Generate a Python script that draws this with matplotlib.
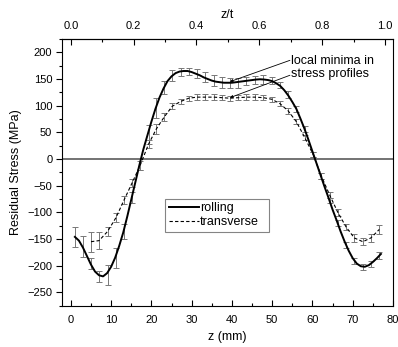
import numpy as np
import matplotlib
matplotlib.use("Agg")
import matplotlib.pyplot as plt
from matplotlib.ticker import MultipleLocator, FixedLocator, FormatStrFormatter

plt.rcParams['font.family'] = ['Liberation Sans', 'DejaVu Sans']

# ---- data ----
thickness = 78.0  # mm, for z/t axis
top_ticks = [0.0, 0.2, 0.4, 0.6, 0.8, 1.0]
top_minor = [0.1, 0.3, 0.5, 0.7, 0.9]

# measurement positions and values (error bars)
z = [1.0, 3.0, 5.0, 7.0, 9.1, 11.2, 13.2, 15.2, 17.2, 19.3, 21.2, 23.2, 25.2,
     27.3, 29.3, 31.3, 33.4, 35.5, 37.5, 39.5, 41.6, 43.6, 45.7, 47.8, 49.9,
     51.9, 54.0, 56.0, 58.1, 60.2, 62.2, 64.3, 66.3, 68.4, 70.4, 72.5, 74.5, 76.6]

rolling = [-146, -164, -196, -220, -217, -186, -136, -72, -10, 46, 96, 134, 156,
           163, 164, 160, 154, 147, 143, 143, 143, 146, 148, 149, 147,
           139, 121, 94, 56, 8, -32, -78, -120, -161, -191, -202, -197, -181]
rolling_err = [19, 19, 10, 10, 19, 19, 14, 10, 10, 17, 19, 13, 10,
               8, 7, 8, 10, 11, 10, 9, 9, 8, 8, 8, 7,
               6, 6, 6, 5, 5, 5, 5, 5, 6, 6, 6, 6, 7]

# smooth rolling curve as drawn (read every 1 mm)
curve_z = [1, 2, 3, 4, 5, 6, 7, 8, 9, 10, 11, 12, 13, 14, 15, 16, 17, 18, 19,
           20, 21, 22, 23, 24, 25, 26, 27, 28, 29, 30, 31, 32, 33, 34, 35, 36,
           37, 38, 39, 40, 41, 42, 43, 44, 45, 46, 47, 48, 49, 50, 51, 52, 53,
           54, 55, 56, 57, 58, 59, 60, 61, 62, 63, 64, 65, 66, 67, 68, 69, 70,
           71, 72, 73, 74, 75, 76, 77]
curve_rolling = [-146, -153, -166, -182, -198, -211, -218, -220, -214, -202,
                 -185, -163, -138, -108, -76, -44, -12, 18, 44, 70, 94, 115,
                 132, 146, 155, 161, 164, 165, 165, 163, 160, 157, 153, 150,
                 147, 145, 144, 143, 143, 143, 144, 145, 146, 147, 148, 149,
                 149.5, 149, 148, 146, 142, 137, 129, 119, 107, 94, 76, 57, 36,
                 14, -8, -30, -52, -73, -95, -115, -136, -155, -172, -186, -196,
                 -201, -202, -199, -193, -186, -178]

z_tr = z[2:]
transverse = [-155, -153, -136, -110, -77, -45, -12, 28, 56, 79, 99,
              108, 114, 116, 116, 116, 115, 114, 115, 116, 116, 115, 112,
              104, 90, 70, 40, 8, -32, -68, -100, -128, -148, -155, -148, -132]
transverse_err = [19, 16, 9, 9, 8, 7, 8, 8, 9, 7, 6,
                  5, 5, 5, 5, 5, 5, 5, 5, 5, 5, 5, 5,
                  5, 5, 5, 5, 5, 5, 6, 6, 6, 7, 7, 7, 8]

x_label = "z (mm)"
top_label = "z/t"
y_label = "Residual Stress (MPa)"
annot_text = "local minima in\nstress profiles"
annot_points = [(39.5, 145), (39.5, 115)]

# ---- figure ----
fig = plt.figure(figsize=(3.98, 3.47), dpi=100)
ax = fig.add_axes([62/398, 1 - 305.7/347, (393-62)/398, (305.7-39)/347])

ax.axhline(0, color='#4d4d4d', lw=1.1, zorder=1)

ecol = '#777777'
ax.errorbar(z, rolling, yerr=rolling_err, fmt='none', ecolor=ecol,
            elinewidth=0.7, capsize=2, capthick=0.7, zorder=2)
ax.errorbar(z_tr, transverse, yerr=transverse_err, fmt='none', ecolor=ecol,
            elinewidth=0.7, capsize=2, capthick=0.7, zorder=2)
ax.plot(curve_z, curve_rolling, color='black', lw=1.4, label='rolling',
        zorder=3)
ax.plot(z_tr, transverse, color='black', lw=0.8, ls=(0, (3, 2)),
        label='transverse', zorder=3)

ax.set_xlim(-2.2, 80)
ax.set_ylim(-275, 225)
ax.xaxis.set_major_locator(MultipleLocator(10))
ax.xaxis.set_minor_locator(MultipleLocator(5))
ax.yaxis.set_major_locator(MultipleLocator(50))
ax.yaxis.set_minor_locator(MultipleLocator(25))

ax.tick_params(axis='x', which='both', direction='in', top=False, labelsize=8,
               pad=7)
ax.tick_params(axis='x', which='major', length=4, width=0.8)
ax.tick_params(axis='x', which='minor', length=2, width=0.8)
ax.tick_params(axis='y', which='both', direction='out', right=False,
               labelsize=8, pad=3)
ax.tick_params(axis='y', which='major', length=4, width=0.8)
ax.tick_params(axis='y', which='minor', length=2, width=0.8)
for s in ax.spines.values():
    s.set_linewidth(0.8)

ax.set_xlabel(x_label, fontsize=9, labelpad=4)
ax.set_ylabel(y_label, fontsize=9, labelpad=4)

sec = ax.secondary_xaxis('top', functions=(lambda v: v/thickness,
                                           lambda r: r*thickness))
sec.xaxis.set_major_locator(FixedLocator(top_ticks))
sec.xaxis.set_minor_locator(FixedLocator(top_minor))
sec.xaxis.set_major_formatter(FormatStrFormatter('%.1f'))
sec.tick_params(which='both', direction='in', labelsize=8, pad=6)
sec.tick_params(which='major', length=4, width=0.8)
sec.tick_params(which='minor', length=2, width=0.8)
sec.spines['top'].set_linewidth(0.8)
sec.set_xlabel(top_label, fontsize=9, labelpad=2)

leg = ax.legend(loc='lower left', bbox_to_anchor=(0.311, 0.276, 0.314, 0.132),
                mode='expand', fontsize=9, handlelength=2.4, handletextpad=0.1,
                borderaxespad=0, borderpad=0.3, labelspacing=0.15,
                fancybox=False, frameon=True)
leg.get_frame().set_edgecolor('#666666')
leg.get_frame().set_linewidth(0.8)

tx, ty1, ty2 = 54.4, 185, 157
ax.text(tx + 0.2, (ty1 + ty2) / 2, annot_text, fontsize=9, ha='left',
        va='center', linespacing=1.15)
for (px, py), ty in zip(annot_points, [ty1, ty2]):
    ax.annotate('', xy=(px, py), xytext=(tx, ty),
                arrowprops=dict(arrowstyle='-|>', lw=0.6, color='black',
                                mutation_scale=4, shrinkA=0, shrinkB=0))

fig.savefig('out.png', dpi=100)
